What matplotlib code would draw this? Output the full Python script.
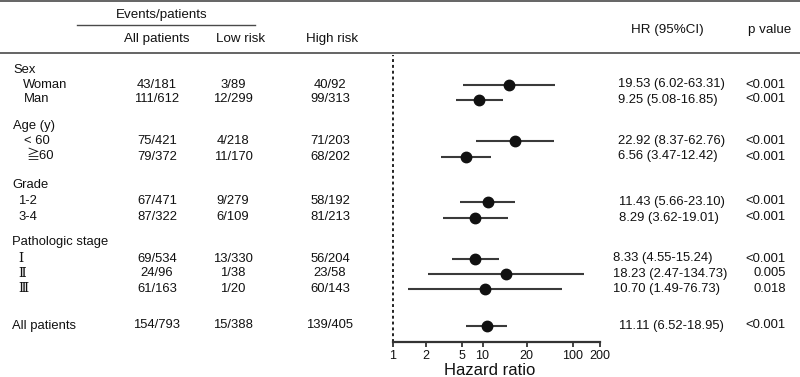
import matplotlib
matplotlib.use("Agg")
import matplotlib.pyplot as plt
import numpy as np

plt.rcParams['font.family'] = ['Liberation Sans', 'Noto Sans CJK JP', 'DejaVu Sans']

# ---- data ----
row_labels = ["Sex", "Woman", "Man", "Age (y)", "< 60", "≧60", "Grade", "1-2", "3-4",
              "Pathologic stage", "Ⅰ", "Ⅱ", "Ⅲ", "All patients"]
all_pat = ["", "43/181", "111/612", "", "75/421", "79/372", "", "67/471", "87/322",
           "", "69/534", "24/96", "61/163", "154/793"]
low_risk = ["", "3/89", "12/299", "", "4/218", "11/170", "", "9/279", "6/109",
            "", "13/330", "1/38", "1/20", "15/388"]
high_risk = ["", "40/92", "99/313", "", "71/203", "68/202", "", "58/192", "81/213",
             "", "56/204", "23/58", "60/143", "139/405"]
hr = [None, 19.53, 9.25, None, 22.92, 6.56, None, 11.43, 8.29, None, 8.33, 18.23, 10.70, 11.11]
lo = [None, 6.02, 5.08, None, 8.37, 3.47, None, 5.66, 3.62, None, 4.55, 2.47, 1.49, 6.52]
hi = [None, 63.31, 16.85, None, 62.76, 12.42, None, 23.10, 19.01, None, 15.24, 134.73, 76.73, 18.95]
hr_text = ["", "19.53 (6.02-63.31)", "9.25 (5.08-16.85)", "", "22.92 (8.37-62.76)",
           "6.56 (3.47-12.42)", "", "11.43 (5.66-23.10)", "8.29 (3.62-19.01)", "",
           "8.33 (4.55-15.24)", "18.23 (2.47-134.73)", "10.70 (1.49-76.73)", "11.11 (6.52-18.95)"]
p_text = ["", "<0.001", "<0.001", "", "<0.001", "<0.001", "", "<0.001", "<0.001", "",
          "<0.001", "0.005", "0.018", "<0.001"]
tick_labels = ["1", "2", "5", "10", "20", "100", "200"]

# ---- layout (pixel coordinates) ----
W, H = 800, 377
row_y = [70, 84.5, 99.5, 126, 141, 156.5, 184.5, 201.5, 217.5, 242, 258.5, 273.5, 289, 325.5]
label_x = [13, 23, 24, 13, 24, 26, 12, 18, 18, 12, 18, 18, 18, 12]
hr_x = [618, 618, 618, 618, 618, 618, 618, 619, 619, 613, 613, 613, 613, 619]
tick_pos = [1, 2.36, 5.9, 10, 31, 100, 200]   # positions as drawn in the reference
roman = {"Ⅰ", "Ⅱ", "Ⅲ"}

fig = plt.figure(figsize=(W / 100, H / 100), dpi=100)
ax0 = fig.add_axes([0, 0, 1, 1])
ax0.set_xlim(0, W)
ax0.set_ylim(H, 0)
ax0.axis("off")

lc = "#4a4a4a"
tc = "#111111"
ax0.plot([0, W], [1, 1], color=lc, lw=1.2)
ax0.plot([0, W], [53, 53], color=lc, lw=1.2)
ax0.plot([77, 255], [25, 25], color=lc, lw=1.0)

hfs = 9.6
ax0.text(162, 15, "Events/patients", ha="center", va="center", fontsize=hfs, color=tc)
ax0.text(157, 39, "All patients", ha="center", va="center", fontsize=hfs, color=tc)
ax0.text(241, 39, "Low risk", ha="center", va="center", fontsize=hfs, color=tc)
ax0.text(332, 39, "High risk", ha="center", va="center", fontsize=hfs, color=tc)
ax0.text(667, 30, "HR (95%CI)", ha="center", va="center", fontsize=hfs, color=tc)
ax0.text(770, 30, "p value", ha="center", va="center", fontsize=hfs, color=tc)

fs = 9.4
for i, lab in enumerate(row_labels):
    y = row_y[i]
    if lab in roman:
        ax0.text(label_x[i], y, lab, ha="left", va="center", fontsize=fs, color=tc,
                 family=['DejaVu Serif', 'Noto Sans CJK JP', 'DejaVu Sans'])
    else:
        ax0.text(label_x[i], y, lab, ha="left", va="center", fontsize=fs, color=tc)
    if all_pat[i]:
        ax0.text(157, y, all_pat[i], ha="center", va="center", fontsize=fs, color=tc)
        ax0.text(233, y, low_risk[i], ha="center", va="center", fontsize=fs, color=tc)
        ax0.text(330, y, high_risk[i], ha="center", va="center", fontsize=fs, color=tc)
    if hr_text[i]:
        ax0.text(hr_x[i], y, hr_text[i], ha="left", va="center", fontsize=fs, color=tc)
        ax0.text(786, y, p_text[i], ha="right", va="center", fontsize=fs, color=tc)

# ---- forest axes ----
x0, x1 = 392.5, 599.6
ytop, ybot = 55, 342
ax = fig.add_axes([x0 / W, 1 - ybot / H, (x1 - x0) / W, (ybot - ytop) / H])
ax.set_xscale("log")
ax.set_xlim(1, 200)
ax.set_ylim(ybot, ytop)
ax.patch.set_alpha(0)
for s in ["top", "right", "left"]:
    ax.spines[s].set_visible(False)
ax.spines["bottom"].set_color("#333333")
ax.spines["bottom"].set_linewidth(1.6)
ax.set_yticks([])
ax.set_xticks(tick_pos)
ax.set_xticklabels(tick_labels, fontsize=9, color=tc)
ax.xaxis.set_minor_locator(matplotlib.ticker.NullLocator())
ax.tick_params(axis="x", direction="out", length=3.5, width=1.3, color="#333333", pad=2)
ax.set_xlabel("Hazard ratio", fontsize=12, color=tc)
ax.xaxis.set_label_coords(0.47, -0.073)
ax.xaxis.label.set_va("top")

ax.axvline(1, color="#222222", lw=1.4, ls=(0, (1.5, 1.5)), clip_on=False)

for i in range(len(row_labels)):
    if hr[i] is None:
        continue
    y = row_y[i]
    ax.plot([lo[i], hi[i]], [y, y], color="#3a3a3a", lw=1.5, solid_capstyle="butt")
    ax.plot([hr[i]], [y], "o", color="#111111", ms=7.5)

fig.savefig("out.png", dpi=100)
